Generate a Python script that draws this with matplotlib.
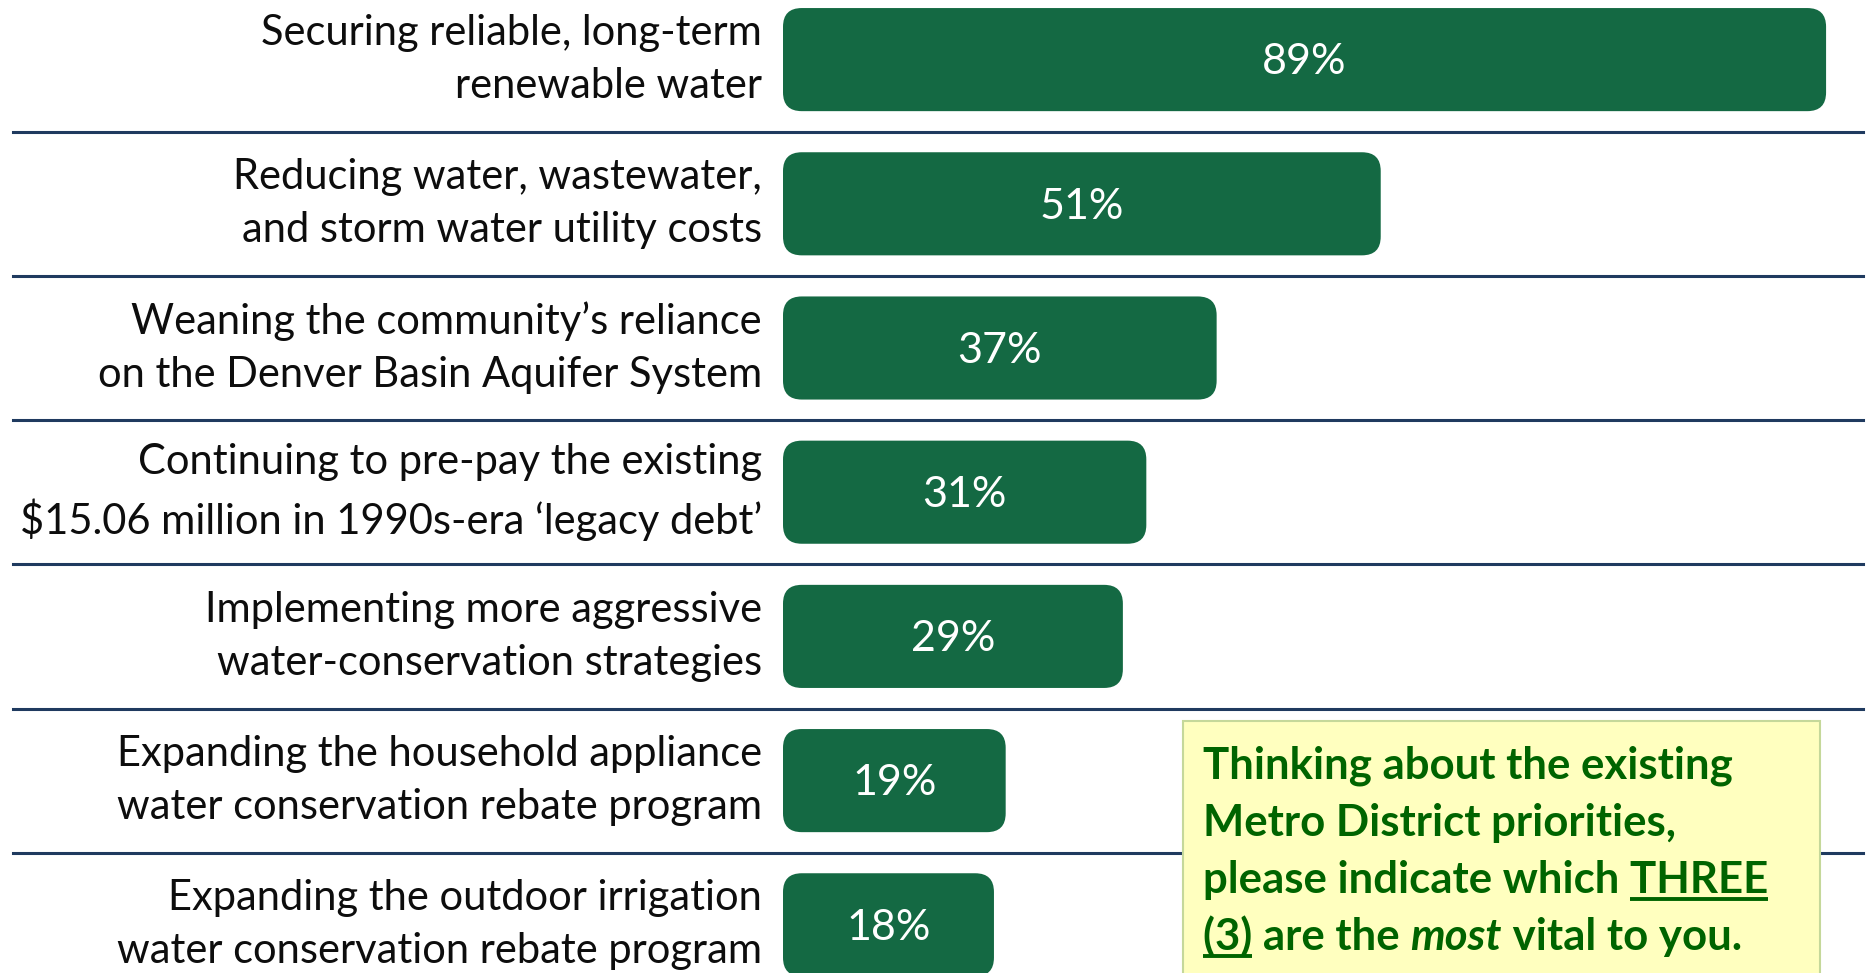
import numpy as np
import matplotlib
matplotlib.use('Agg')
from matplotlib import pyplot as plt
from matplotlib.patches import FancyBboxPatch, Rectangle

plt.rcParams['font.family'] = ['Lato', 'DejaVu Sans']

## Survey data
#
labels = [
    'Securing reliable, long-term\nrenewable water',
    'Reducing water, wastewater,\nand storm water utility costs',
    'Weaning the community\u2019s reliance\non the Denver Basin Aquifer System',
    'Continuing to pre-pay the existing\n$15.06 million in 1990s-era \u2018legacy debt\u2019',
    'Implementing more aggressive\nwater-conservation strategies',
    'Expanding the household appliance\nwater conservation rebate program',
    'Expanding the outdoor irrigation\nwater conservation rebate program',
]
values = [89, 51, 37, 31, 29, 19, 18]
value_labels = ['%d%%' % v for v in values]

BAR_GREEN = '#146943'
RULE_BLUE = '#1F3A5F'
NOTE_GREEN = '#006400'

W, H = 1868, 973
PX_PER_PCT = 11.72      # horizontal scale, pixels per percent
ROW_PX = 144.2          # row pitch in pixels
X0_PX, Y0_PX = 783, 59.6

fig = plt.figure(figsize=(W / 100, H / 100), dpi=100)
ax = fig.add_axes([0, 0, 1, 1])
ax.set_xlim(-X0_PX / PX_PER_PCT, (W - X0_PX) / PX_PER_PCT)
ax.set_ylim((H - Y0_PX) / ROW_PX, -Y0_PX / ROW_PX)
ax.axis('off')

bar_h = 0.715
aspect = PX_PER_PCT / ROW_PX

## Rounded bars + labels
#
for i, (v, lab, txt) in enumerate(zip(values, labels, value_labels)):
    box = FancyBboxPatch((0, i - bar_h / 2), v, bar_h,
                         boxstyle='round,pad=0,rounding_size=1.6',
                         mutation_aspect=aspect,
                         facecolor=BAR_GREEN, edgecolor='none')
    ax.add_patch(box)
    ax.text(v / 2, i + 0.02, txt, color='white', fontsize=31,
            ha='center', va='center')
    ax.text(-1.8, i, lab, color='#0d0d0d', fontsize=30,
            ha='right', va='center', multialignment='right',
            linespacing=1.48)

for i in range(len(values) - 1):
    ax.axhline(i + 0.5, xmin=13 / W, xmax=1863 / W, color=RULE_BLUE, lw=2.2)

## Question note box (pixel coordinates)
#
ov = fig.add_axes([0, 0, 1, 1], zorder=5)
ov.set_xlim(0, W)
ov.set_ylim(H, 0)
ov.axis('off')
ov.patch.set_alpha(0)

ov.add_patch(Rectangle((1183, 721), 1820 - 1183, 260,
                       facecolor='#FFFFBF', edgecolor='#C5D89A', lw=1.5))

renderer = fig.canvas.get_renderer()
note_kw = dict(color=NOTE_GREEN, fontsize=31.5, fontweight='bold', va='baseline', ha='left')


def text_width(s, **kw):
    # width of s in pixels, counting trailing spaces
    t = ov.text(0, 0, s + 'x', **kw)
    t2 = ov.text(0, 0, 'x', **kw)
    w = t.get_window_extent(renderer).width - t2.get_window_extent(renderer).width
    t.remove()
    t2.remove()
    return w


def underline(x, y, w):
    ov.plot([x, x + w], [y + 6, y + 6], color=NOTE_GREEN, lw=2.8, solid_capstyle='butt')


tx = 1203
base = [778, 836, 893, 950]
ov.text(tx, base[0], 'Thinking about the existing', **note_kw)
ov.text(tx, base[1], 'Metro District priorities,', **note_kw)

pre = 'please indicate which '
ov.text(tx, base[2], pre + 'THREE', **note_kw)
underline(tx + text_width(pre, **note_kw), base[2], text_width('THREE', **note_kw))

x = tx
ov.text(x, base[3], '(3) are the ', **note_kw)
underline(x, base[3], text_width('(3)', **note_kw))
x += text_width('(3) are the ', **note_kw)
ital_kw = dict(note_kw, fontstyle='italic')
ov.text(x, base[3], 'most', **ital_kw)
x += text_width('most', **ital_kw)
ov.text(x, base[3], ' vital to you.', **note_kw)

fig.savefig('out.png', dpi=100)
